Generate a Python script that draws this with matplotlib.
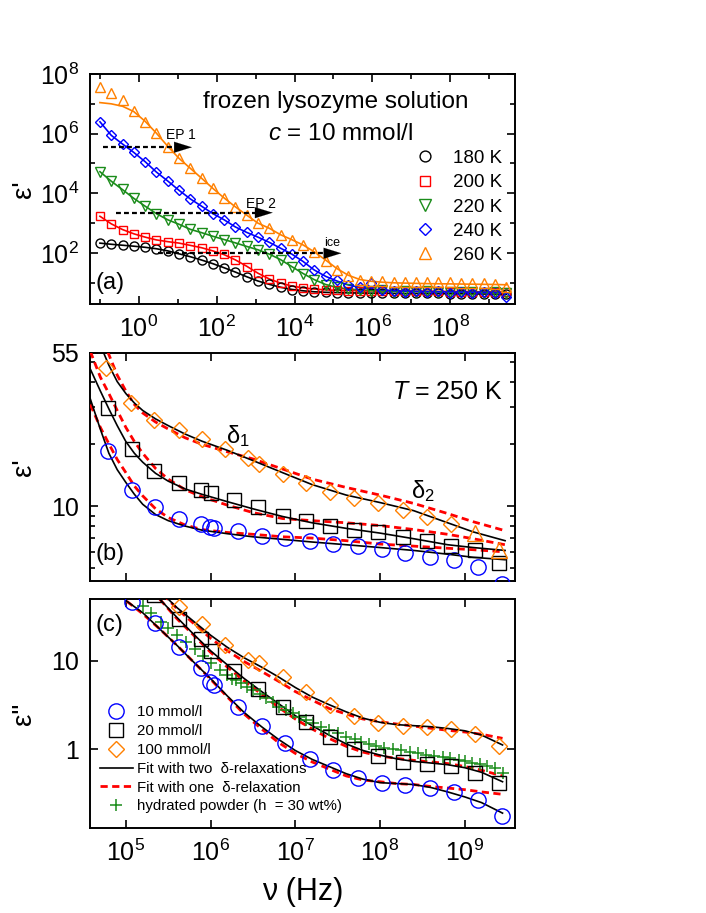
import numpy as np
import matplotlib
matplotlib.use('Agg')
import matplotlib.pyplot as plt
from matplotlib.ticker import FixedLocator, NullLocator, NullFormatter, FuncFormatter, FixedFormatter
from matplotlib.lines import Line2D

plt.rcParams.update({
    'font.family': ['Liberation Sans', 'DejaVu Sans'],
    'mathtext.fontset': 'custom',
    'mathtext.rm': 'Liberation Sans',
    'mathtext.it': 'Liberation Sans:italic',
    'mathtext.bf': 'Liberation Sans:bold',
})

# ---------------- panel (a) data ----------------
f_a = [0.1, 0.195, 0.38, 0.74, 1.45, 2.8, 5.5, 10.7, 21, 41, 79, 155, 300, 590, 1150, 2240,
       4370, 8500, 1.66e4, 3.2e4, 6.3e4, 1.23e5, 2.4e5, 4.7e5, 9.1e5, 1.8e6, 3.5e6, 6.8e6,
       1.3e7, 2.6e7, 5.0e7, 9.8e7, 1.9e8, 3.7e8, 7.2e8, 1.4e9, 2.75e9]
temps = ['180 K', '200 K', '220 K', '240 K', '260 K']
eps_180 = [214, 195, 182, 170, 155, 141, 117, 93, 76, 58, 43, 32, 23, 15.8, 11.5, 8.9, 7.1, 5.9,
           5.4, 5.0, 4.8, 4.7, 4.6, 4.6, 4.5, 4.5, 4.5, 4.4, 4.4, 4.4, 4.4, 4.3, 4.3, 4.3, 4.2, 4.2, 4.1]
eps_200 = [1740, 930, 600, 440, 340, 270, 240, 220, 178, 151, 120, 89, 59, 35, 21, 13.5, 9.8, 7.8,
           6.8, 6.2, 5.8, 5.6, 5.5, 5.4, 5.4, 5.3, 5.3, 5.3, 5.2, 5.2, 5.2, 5.1, 5.1, 5.1, 5.0, 4.9, 4.8]
eps_220 = [53700, 25100, 13500, 6760, 3720, 2090, 1290, 930, 617, 479, 363, 282, 219, 166, 129, 93,
           60, 35, 20, 12.6, 8.7, 7.1, 6.3, 5.8, 5.4, 5.6, 5.1, 5.3, 5.0, 5.2, 4.9, 5.1, 4.8, 5.0, 4.7, 4.8, 4.5]
eps_240 = [2.5e6, 8.7e5, 4.6e5, 2.4e5, 1.15e5, 5.1e4, 2.6e4, 1.26e4, 6600, 3700, 2090, 1320, 740, 490,
           340, 229, 145, 93, 52, 26, 17, 12, 8.7, 7.1, 10, 5.8, 5.4, 5.0, 5.3, 4.8, 5.2, 4.7, 5.1, 4.6, 4.9, 4.7, 3.4]
eps_260 = [3.8e7, 2.24e7, 1.35e7, 5.9e6, 2.5e6, 1.02e6, 3.6e5, 1.48e5, 6.9e4, 3.16e4, 1.48e4, 6760, 3550,
           1860, 977, 676, 398, 275, 186, 105, 52, 26, 17, 12.6, 11.5, 11.2, 11.0, 11.0, 10.7, 10.7, 10.5,
           10.5, 10.2, 10.0, 9.5, 8.9, 7.2]
fit_180 = [214, 196, 182, 169, 155, 139, 118, 94, 75, 58, 44, 32, 23, 16, 11.5, 8.9, 7.1, 6.0, 5.4, 5.0,
           4.8, 4.7, 4.6, 4.55, 4.5, 4.5, 4.45, 4.4, 4.4, 4.4, 4.35, 4.3, 4.3, 4.25, 4.2, 4.2, 4.1]
fit_200 = [1700, 950, 610, 440, 340, 275, 240, 215, 180, 150, 118, 88, 59, 36, 21, 13.5, 9.8, 7.8, 6.8,
           6.2, 5.8, 5.6, 5.5, 5.45, 5.4, 5.35, 5.3, 5.25, 5.2, 5.2, 5.15, 5.1, 5.1, 5.05, 5.0, 4.95, 4.9]
fit_220 = [53000, 25500, 13300, 6800, 3700, 2100, 1300, 920, 620, 480, 365, 282, 219, 166, 128, 92, 60,
           35, 20.5, 12.8, 8.8, 7.0, 6.2, 5.8, 5.5, 5.35, 5.25, 5.2, 5.15, 5.1, 5.05, 5.0, 4.95, 4.9, 4.85, 4.8, 4.7]
fit_240 = [2.5e6, 8.8e5, 4.5e5, 2.35e5, 1.15e5, 5.2e4, 2.6e4, 1.27e4, 6500, 3700, 2100, 1300, 750, 490,
           340, 228, 145, 92, 52, 27, 16.5, 11.5, 8.5, 7.0, 6.2, 5.8, 5.5, 5.3, 5.15, 5.05, 5.0, 4.95, 4.9,
           4.85, 4.8, 4.7, 4.6]
fit_260 = [1.1e7, 1.0e7, 8.3e6, 5.5e6, 2.6e6, 1.05e6, 3.8e5, 1.5e5, 6.9e4, 3.2e4, 1.48e4, 7000, 3550,
           1860, 1000, 676, 410, 280, 186, 110, 58, 30, 18, 13, 11.3, 10.5, 10.0, 9.8, 9.6, 9.4, 9.3,
           9.2, 9.1, 9.0, 8.9, 8.8, 8.6]

# arrow annotations in (a): (x_start, x_head_base, x_tip, y), labels
arrow_ep1 = (0.12, 10.0, 23.0, 3.5e5)
arrow_ep2 = (0.26, 1260, 2750, 2240)
arrow_ice = (3.1, 5.9e4, 1.6e5, 98)
label_ep1 = (12, 9.1e5)
label_ep2 = (1350, 4370)
label_ice = (9.4e4, 217)

# ---------------- panels (b),(c) data ----------------
f_10 = [6.2e4, 1.17e5, 2.2e5, 4.2e5, 7.8e5, 9.8e5, 1.1e6, 2.1e6, 4.0e6, 7.6e6, 1.48e7, 2.8e7, 5.5e7,
        1.05e8, 2.0e8, 3.9e8, 7.4e8, 1.45e9, 2.75e9]
e1_10 = [18.5, 11.9, 9.9, 8.7, 8.2, 7.9, 7.8, 7.6, 7.2, 7.0, 6.8, 6.55, 6.4, 6.2, 5.9, 5.7, 5.5, 5.1, 4.2]
e2_10 = [90, 46.5, 26.5, 14.4, 8.2, 5.7, 5.3, 3.0, 1.83, 1.19, 0.77, 0.58, 0.48, 0.42, 0.40, 0.37, 0.33, 0.27, 0.176]
f_20 = [6.2e4, 1.17e5, 2.15e5, 4.2e5, 7.8e5, 1.0e6, 1.9e6, 3.6e6, 7.1e6, 1.35e7, 2.6e7, 5.0e7, 9.5e7,
        1.86e8, 3.55e8, 6.9e8, 1.32e9, 2.57e9]
e1_20 = [29.7, 18.8, 14.8, 13.0, 11.9, 11.6, 10.7, 9.9, 9.0, 8.5, 8.0, 7.7, 7.5, 7.1, 6.8, 6.4, 6.1, 5.3]
e2_20 = [120, 75, 55, 30, 17.5, 13, 7.7, 4.8, 3.0, 2.05, 1.39, 1.0, 0.84, 0.72, 0.68, 0.65, 0.54, 0.42]
f_100 = [5.9e4, 1.14e5, 2.15e5, 4.2e5, 7.9e5, 1.48e6, 2.75e6, 3.7e6, 7.1e6, 1.35e7, 2.6e7, 5.0e7, 9.5e7,
         1.86e8, 3.55e8, 6.9e8, 1.32e9, 2.57e9]
e1_100 = [46.4, 31.6, 26, 23.3, 21, 18.9, 17, 16, 14.3, 12.9, 11.7, 11.0, 10.4, 9.6, 8.9, 8.2, 7.4, 6.1]
e2_100 = [300, 150, 70, 40.8, 25.8, 15.1, 10.2, 9.5, 6.5, 4.4, 3.17, 2.35, 2.0, 1.83, 1.77, 1.68, 1.49, 1.09]
f_pow = [1.58e5, 2.0e5, 2.63e5, 3.16e5, 3.98e5, 5.13e5, 6.46e5, 8.13e5, 1.02e6, 1.29e6, 1.55e6, 1.78e6,
         2.0e6, 2.29e6, 2.69e6, 3.16e6, 3.8e6, 4.57e6, 5.5e6, 6.46e6, 7.76e6, 9.33e6, 1.12e7, 1.35e7,
         1.62e7, 2.0e7, 2.51e7, 3.16e7, 3.98e7, 5.01e7, 6.03e7, 7.41e7, 8.91e7, 1.12e8, 1.41e8, 1.78e8,
         2.24e8, 2.82e8, 3.47e8, 4.37e8, 5.5e8, 6.76e8, 8.51e8, 1.02e9, 1.23e9, 1.51e9, 1.86e9, 2.29e9, 2.82e9]
e2_pow = [41.6, 35, 27.7, 23.5, 19.6, 16.4, 13.5, 11.2, 9.4, 7.9, 7.0, 6.3, 6.0, 5.6, 5.1, 4.7, 4.2, 3.8,
          3.4, 3.0, 2.75, 2.55, 2.33, 2.14, 1.97, 1.80, 1.66, 1.52, 1.39, 1.30, 1.20, 1.14, 1.09, 1.04,
          1.0, 0.97, 0.94, 0.90, 0.86, 0.84, 0.81, 0.79, 0.76, 0.73, 0.70, 0.68, 0.65, 0.62, 0.54]

# fit curves (b)
fb = [3.8e4, 5.0e4, 6.3e4, 7.9e4, 1.0e5, 1.26e5, 1.58e5, 2.24e5, 3.16e5, 5.0e5, 7.9e5, 1.58e6, 3.16e6,
      7.1e6, 1.58e7, 4.0e7, 1.0e8, 2.5e8, 6.3e8, 1.26e9, 3.0e9]
b2_100 = [80, 60, 48, 40, 35, 31.5, 29, 26.4, 24.5, 22.3, 20.6, 18.6, 16.6, 14.5, 12.7, 11.3, 10.4, 9.5, 8.3, 7.5, 6.8]
b1_100 = [90, 68, 54, 43, 36, 31, 28.2, 25.5, 23.6, 21.4, 19.9, 18.3, 16.9, 15.1, 13.5, 12.3, 11.3, 10.3, 9.2, 8.4, 7.6]
b2_20 = [46, 36, 29.5, 24.5, 20.5, 18, 16.3, 14.4, 13.2, 12.1, 11.4, 10.5, 9.7, 8.9, 8.3, 7.8, 7.4, 6.95, 6.5, 6.3, 6.1]
b1_20 = [56, 42, 35, 29, 24, 20.5, 18, 15.2, 13.5, 12.0, 11.1, 10.1, 9.3, 8.7, 8.5, 8.3, 8.05, 7.7, 7.3, 6.95, 6.5]
b2_10 = [33, 23.5, 18, 15, 13, 11.4, 10.2, 9.1, 8.5, 8.0, 7.65, 7.35, 7.1, 6.9, 6.7, 6.5, 6.3, 6.1, 5.85, 5.65, 5.5]
b1_10 = [31, 24, 20, 16.8, 14.5, 12.5, 11.2, 9.7, 8.8, 8.1, 7.7, 7.45, 7.3, 7.1, 7.0, 6.8, 6.55, 6.4, 6.25, 6.15, 6.0]

# fit curves (c)
fc = [4.0e4, 6.3e4, 1.0e5, 1.58e5, 2.5e5, 4.0e5, 6.3e5, 1.0e6, 1.58e6, 2.5e6, 4.0e6, 6.3e6, 1.0e7, 1.58e7,
      2.5e7, 4.0e7, 6.3e7, 1.0e8, 1.58e8, 2.5e8, 4.0e8, 6.3e8, 1.0e9, 1.58e9, 2.8e9]
c2_10 = [160, 85, 48, 35, 23, 15, 9.7, 6.3, 4.0, 2.6, 1.8, 1.3, 0.97, 0.77, 0.64, 0.53, 0.46, 0.42, 0.41, 0.40, 0.37, 0.33, 0.29, 0.25, 0.19]
c1_10 = [160, 85, 48, 34, 23, 15, 9.7, 6.2, 3.9, 2.5, 1.7, 1.2, 0.9, 0.72, 0.60, 0.50, 0.45, 0.43, 0.41, 0.40, 0.38, 0.365, 0.35, 0.33, 0.31]
c2_20 = [400, 220, 130, 75, 50, 31, 20, 13, 9, 6.3, 4.5, 3.3, 2.4, 1.85, 1.45, 1.15, 0.97, 0.86, 0.78, 0.73, 0.70, 0.67, 0.62, 0.55, 0.43]
c1_20 = [400, 220, 130, 75, 50, 30, 19.5, 12.5, 8.5, 5.9, 4.2, 3.0, 2.2, 1.7, 1.33, 1.08, 0.93, 0.84, 0.79, 0.75, 0.72, 0.69, 0.64, 0.58, 0.50]
c2_100 = [900, 400, 200, 110, 62, 40, 28, 19.5, 14.2, 10.8, 8.5, 6.6, 5.0, 3.9, 3.2, 2.65, 2.25, 2.02, 1.9, 1.85, 1.8, 1.72, 1.62, 1.45, 1.12]
c1_100 = [900, 400, 200, 110, 62, 39, 26.5, 18, 13, 9.8, 7.6, 5.9, 4.5, 3.6, 2.9, 2.5, 2.2, 2.05, 1.93, 1.83, 1.73, 1.64, 1.57, 1.48, 1.33]

conc_labels = ['10 mmol/l', '20 mmol/l', '100 mmol/l']

# ---------------- styling ----------------
BLACK, RED, GREEN, BLUE, ORANGE = '#000000', '#FF0000', '#1A8C1A', '#0000FF', '#FF8000'
W, H = 706, 913
fig = plt.figure(figsize=(W / 100, H / 100), dpi=100)

def rect(l, r, t, b):
    return [l / W, 1 - b / H, (r - l) / W, (b - t) / H]

axa = fig.add_axes(rect(90, 515, 74, 304))
axb = fig.add_axes(rect(90, 515, 353, 581))
axc = fig.add_axes(rect(90, 515, 599, 828))

pow10 = FuncFormatter(lambda v, p: r'$\mathdefault{10^{%d}}$' % int(round(np.log10(v))))

for ax in (axa, axb, axc):
    ax.set_xscale('log')
    ax.set_yscale('log')
    for s in ax.spines.values():
        s.set_linewidth(1.4)
    ax.tick_params(which='both', direction='in', top=True, right=True, labelsize=18, width=1.2)
    ax.tick_params(which='major', length=6, pad=8)
    ax.tick_params(which='minor', length=3.5)

# ---- (a)
axa.set_xlim(0.0555, 4.64e9)
axa.set_ylim(1.95, 1e8)
axa.xaxis.set_major_locator(FixedLocator([1e0, 1e2, 1e4, 1e6, 1e8]))
axa.xaxis.set_minor_locator(FixedLocator([1e-1, 1e1, 1e3, 1e5, 1e7, 1e9]))
axa.xaxis.set_major_formatter(pow10)
axa.xaxis.set_minor_formatter(NullFormatter())
axa.yaxis.set_major_locator(FixedLocator([1e2, 1e4, 1e6, 1e8]))
axa.yaxis.set_minor_locator(FixedLocator([1e1, 1e3, 1e5, 1e7]))
axa.yaxis.set_major_formatter(pow10)
axa.yaxis.set_minor_formatter(NullFormatter())

series_a = [
    (eps_180, fit_180, 'o', BLACK, 6.5),
    (eps_200, fit_200, 's', RED, 6.0),
    (eps_220, fit_220, 'v', GREEN, 7.5),
    (eps_240, fit_240, 'D', BLUE, 5.2),
    (eps_260, fit_260, '^', ORANGE, 7.5),
]
handles_a = []
for (eps, fit, mk, col, ms), lab in zip(series_a, temps):
    axa.plot(f_a, fit, '-', color=col, lw=1.2, zorder=3)
    h, = axa.plot(f_a, eps, mk, ls='none', mfc='none', mec=col, mew=1.0, ms=ms, label=lab, zorder=4)
    handles_a.append(h)

for (x0, xb_, xt, y) in (arrow_ep1, arrow_ep2, arrow_ice):
    axa.plot([x0, xb_], [y, y], color='k', lw=1.6, ls=(0, (2.2, 1.4)), zorder=5)
    axa.annotate('', xy=(xt, y), xytext=(xb_, y),
                 arrowprops=dict(arrowstyle='-|>,head_length=0.9,head_width=0.28', color='k', lw=0.1,
                                 shrinkA=0, shrinkB=0, mutation_scale=14), zorder=5)
axa.text(*label_ep1, 'EP 1', fontsize=10, ha='center', va='center')
axa.text(*label_ep2, 'EP 2', fontsize=10, ha='center', va='center')
axa.text(*label_ice, 'ice', fontsize=9, ha='center', va='center')

axa.text(0.578, 0.88, 'frozen lysozyme solution', transform=axa.transAxes, fontsize=17.5,
         ha='center', va='center')
axa.text(0.59, 0.74, r'$c$ = 10 mmol/l', transform=axa.transAxes, fontsize=17.5, ha='center', va='center')
axa.text(0.012, 0.091, '(a)', transform=axa.transAxes, fontsize=17, ha='left', va='center')
axa.legend(handles=handles_a, loc='upper left', bbox_to_anchor=(0.767, 0.67), frameon=False,
           fontsize=13.5, handlelength=1.0, handletextpad=1.0, labelspacing=0.38, borderpad=0,
           borderaxespad=0, markerscale=1.2)
axa.set_ylabel("ε'", fontsize=20)
axa.yaxis.set_label_coords(-0.125, 0.5)

# ---- (b)
xlim_bc = (3.77e4, 3.93e9)
axb.set_xlim(*xlim_bc)
axb.set_ylim(4.34, 55)
axb.xaxis.set_major_locator(FixedLocator([1e5, 1e6, 1e7, 1e8, 1e9]))
axb.xaxis.set_minor_locator(NullLocator())
axb.xaxis.set_major_formatter(NullFormatter())
axb.yaxis.set_major_locator(FixedLocator([10, 55]))
axb.yaxis.set_major_formatter(FixedFormatter(['10', '55']))
axb.yaxis.set_minor_locator(FixedLocator([5, 6, 7, 8, 9, 20, 30, 40, 50]))
axb.yaxis.set_minor_formatter(NullFormatter())

red_dash = dict(color=RED, lw=2.0, ls=(0, (2.6, 1.6)), zorder=3)
for two, one in ((b2_10, b1_10), (b2_20, b1_20), (b2_100, b1_100)):
    axb.plot(fb, one, **red_dash)
    axb.plot(fb, two, '-', color=BLACK, lw=1.2, zorder=3)
axb.plot(f_10, e1_10, 'o', ls='none', mfc='none', mec=BLUE, mew=1.0, ms=11, zorder=4)
axb.plot(f_20, e1_20, 's', ls='none', mfc='none', mec=BLACK, mew=1.0, ms=9.5, zorder=4)
axb.plot(f_100[:16], e1_100[:16], 'D', ls='none', mfc='none', mec=ORANGE, mew=1.0, ms=8.5, zorder=4)
axb.plot(f_100[16:], e1_100[16:], '^', ls='none', mfc='none', mec=ORANGE, mew=1.0, ms=12, zorder=4)
axb.text(2.1e6, 21.8, 'δ$_1$', fontsize=17, ha='center', va='center')
axb.text(3.2e8, 11.8, 'δ$_2$', fontsize=17, ha='center', va='center')
axb.text(0.84, 0.829, r'$T$ = 250 K', transform=axb.transAxes, fontsize=18, ha='center', va='center')
axb.text(0.012, 0.118, '(b)', transform=axb.transAxes, fontsize=17, ha='left', va='center')
axb.set_ylabel("ε'", fontsize=20)
axb.yaxis.set_label_coords(-0.125, 0.5)

# ---- (c)
axc.set_xlim(*xlim_bc)
axc.set_ylim(0.129, 50)
axc.xaxis.set_major_locator(FixedLocator([1e5, 1e6, 1e7, 1e8, 1e9]))
axc.xaxis.set_minor_locator(NullLocator())
axc.xaxis.set_major_formatter(pow10)
axc.yaxis.set_major_locator(FixedLocator([1, 10]))
axc.yaxis.set_major_formatter(FixedFormatter(['1', '10']))
axc.yaxis.set_minor_locator(NullLocator())

for two, one in ((c2_10, c1_10), (c2_20, c1_20), (c2_100, c1_100)):
    axc.plot(fc, one, **red_dash)
    axc.plot(fc, two, '-', color=BLACK, lw=1.2, zorder=3)
axc.plot(f_pow, e2_pow, '+', ls='none', color=GREEN, mew=1.1, ms=8, zorder=4)
axc.plot(f_10, e2_10, 'o', ls='none', mfc='none', mec=BLUE, mew=1.0, ms=11, zorder=5)
axc.plot(f_20, e2_20, 's', ls='none', mfc='none', mec=BLACK, mew=1.0, ms=9.5, zorder=5)
axc.plot(f_100, e2_100, 'D', ls='none', mfc='none', mec=ORANGE, mew=1.0, ms=8.5, zorder=5)
axc.text(0.012, 0.886, '(c)', transform=axc.transAxes, fontsize=17, ha='left', va='center')

handles_c = [
    Line2D([], [], marker='o', ls='none', mfc='none', mec=BLUE, mew=1.0, ms=11),
    Line2D([], [], marker='s', ls='none', mfc='none', mec=BLACK, mew=1.0, ms=9.5),
    Line2D([], [], marker='D', ls='none', mfc='none', mec=ORANGE, mew=1.0, ms=8.5),
    Line2D([], [], color=BLACK, lw=1.2),
    Line2D([], [], **red_dash),
    Line2D([], [], marker='+', ls='none', color=GREEN, mew=1.1, ms=8),
]
labels_c = conc_labels + ['Fit with two  δ-relaxations', 'Fit with one  δ-relaxation',
                          'hydrated powder (h  = 30 wt%)']
axc.legend(handles_c, labels_c, loc='upper left', bbox_to_anchor=(0.0235, 0.535), frameon=False,
           fontsize=10.8, handlelength=2.2, handletextpad=0.3, labelspacing=0.32, borderpad=0,
           borderaxespad=0)
axc.set_ylabel('ε"', fontsize=20)
axc.yaxis.set_label_coords(-0.125, 0.5)
axc.set_xlabel('ν (Hz)', fontsize=22)
axc.xaxis.set_label_coords(0.5, -0.215)

fig.savefig('out.png', dpi=100)
